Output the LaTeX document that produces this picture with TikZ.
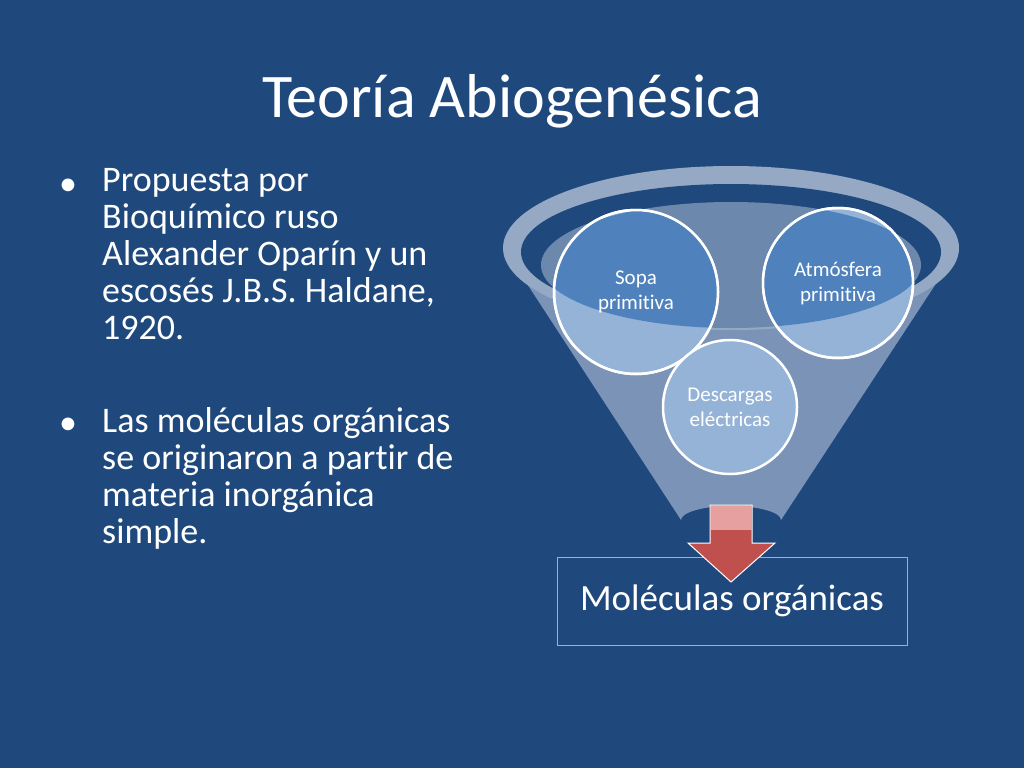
\documentclass[tikz,border=0pt]{standalone}
\usepackage{fontspec}
\setmainfont{Carlito}[Ligatures={NoCommon}]
\begin{document}
\begin{tikzpicture}[x=1pt,y=-1pt,
  txt/.style={text=white,font=\fontsize{36}{37}\selectfont,anchor=north west,align=left,inner sep=0},
  circ/.style={circle,draw=white,line width=2.5pt,minimum size=#1,inner sep=0,text=white,font=\fontsize{21}{25}\selectfont,align=center}]
\definecolor{bg}{HTML}{1F497D}
\definecolor{body}{HTML}{7A93B6}
\definecolor{mid}{HTML}{4F81BD}
\definecolor{lite}{HTML}{95B3D7}
\definecolor{arr}{HTML}{C0504D}
\definecolor{arrl}{HTML}{E6A0A0}
\fill[bg] (0,0) rectangle (1024,768);
\useasboundingbox (0,0) rectangle (1024,768);
\node[text=white,font=\fontsize{62}{70}\selectfont,anchor=base] (title) at (512,117) {Teoría Abiogenésica};
\node[text=white,font=\fontsize{36}{37}\selectfont,anchor=base,inner sep=0] (b1) at (68,195) {•};
\node[txt] (t1) at (102,168) {Propuesta por\\Bioquímico ruso\\Alexander Oparín y un\\escosés J.B.S. Haldane,\\1920.};
\node[text=white,font=\fontsize{36}{37}\selectfont,anchor=base,inner sep=0] (b2) at (68,434) {•};
\node[txt] (t2) at (102,407) {Las moléculas orgánicas\\se originaron a partir de\\materia inorgánica\\simple.};
% funnel body
\fill[body] (505,250) -- (681,520) arc[start angle=180,end angle=360,x radius=50,y radius=14] -- (958,250) -- cycle;
\fill[body!80!white] (731,248) ellipse[x radius=228,y radius=82];
\fill[bg] (731,252) ellipse[x radius=210,y radius=68];
\fill[body!85!bg] (731,265) ellipse[x radius=190,y radius=63];
% circles
\node[circ=164pt,fill=lite] (sopa) at (636,292) {Sopa\\primitiva};
\node[circ=150pt,fill=lite] (atm) at (838,283) {Atmósfera\\primitiva};
\begin{scope}
\clip (731,265) ellipse[x radius=190,y radius=63];
\fill[mid] (636,292) circle[radius=81];
\fill[mid] (838,283) circle[radius=74];
\end{scope}
\node[circ=164pt,text=white] at (636,292) {Sopa\\primitiva};
\node[circ=150pt,text=white] at (838,283) {Atmósfera\\primitiva};
\node[circ=134pt,fill=lite] (desc) at (730,407) {Descargas\\eléctricas};
% box
\node[draw=lite,line width=1pt,minimum width=350pt,minimum height=88pt,text=white,font=\fontsize{37}{40}\selectfont] (mol) at (732,601) {Moléculas orgánicas};
% arrow
\draw[white,line width=1pt,fill=arr] (710,505) -- (752,505) -- (752,543) -- (775,543) -- (731,582) -- (688,543) -- (710,543) -- cycle;
\fill[arrl] (710.5,505.5) rectangle (751.5,530);
\end{tikzpicture}
\end{document}
